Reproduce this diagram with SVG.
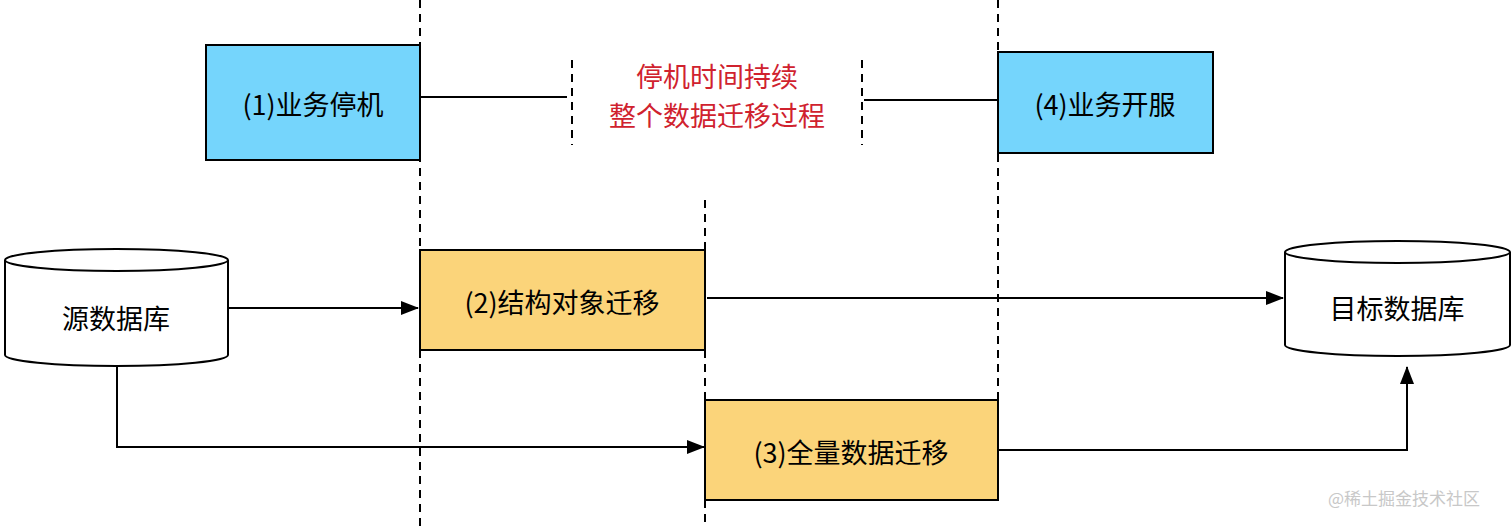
<svg xmlns="http://www.w3.org/2000/svg" width="1512" height="527" viewBox="0 0 1512 527">
<style>
.t{font-family:"Noto Sans CJK SC","Noto Sans",sans-serif;font-size:27px;fill:#000;text-anchor:middle;dominant-baseline:central}
.blue{fill:#75d5fc;stroke:#000;stroke-width:2}
.yel{fill:#fbd47a;stroke:#000;stroke-width:2}
.ln{fill:none;stroke:#000;stroke-width:2}
.dash{fill:none;stroke:#000;stroke-width:2;stroke-dasharray:8,6}
.cyl{fill:#fff;stroke:#000;stroke-width:2}
</style>
<defs><marker id="a" markerWidth="10" markerHeight="10" refX="9" refY="5" orient="auto" markerUnits="userSpaceOnUse"><path d="M0,0 L10,5 L0,10 Z" fill="#000"/></marker>
<marker id="b" markerWidth="18" markerHeight="14" refX="17" refY="7" orient="auto" markerUnits="userSpaceOnUse"><path d="M0,0 L18,7 L0,14 Z" fill="#000"/></marker></defs>
<g id="connectors">
<path class="dash" d="M420,0 V527"/>
<path class="dash" d="M998,0 V400"/>
<path class="dash" d="M705,200 V250"/>
<path class="dash" d="M705,350 V400"/>
<path class="dash" d="M705,500 V527"/>
<path class="dash" d="M572,60 V145"/>
<path class="dash" d="M862,60 V145"/>
<path class="ln" d="M420,97 H567"/>
<path class="ln" d="M864,100 H998"/>
<path class="ln" d="M228,308 H418" marker-end="url(#b)"/>
<path class="ln" d="M707,298 H1283" marker-end="url(#b)"/>
<path class="ln" d="M117,366 V447 H704" marker-end="url(#b)"/>
<path class="ln" d="M999,450 H1407 V367" marker-end="url(#b)"/>
</g>
<g id="n1"><rect class="blue" x="206" y="45" width="214" height="115"/><text class="t" x="313" y="103">(1)业务停机</text></g>
<g id="n4"><rect class="blue" x="998" y="52" width="215" height="101"/><text class="t" x="1105" y="103">(4)业务开服</text></g>
<g id="note"><text class="t" x="717" y="75" style="fill:#d0222e">停机时间持续</text><text class="t" x="717" y="114" style="fill:#d0222e">整个数据迁移过程</text></g>
<g id="n2"><rect class="yel" x="420" y="250" width="285" height="100"/><text class="t" x="562" y="301">(2)结构对象迁移</text></g>
<g id="n3"><rect class="yel" x="705" y="400" width="293" height="100"/><text class="t" x="851" y="451">(3)全量数据迁移</text></g>
<g id="src"><path class="cyl" d="M5,260 V355 A111.5,11 0 0 0 228,355 V260"/><ellipse class="cyl" cx="116.5" cy="260" rx="111.5" ry="11"/><text class="t" x="116" y="317">源数据库</text></g>
<g id="dst"><path class="cyl" d="M1285,252 V345 A112.5,11 0 0 0 1510,345 V252"/><ellipse class="cyl" cx="1397.5" cy="252" rx="112.5" ry="11"/><text class="t" x="1397" y="307">目标数据库</text></g>
<text x="1404" y="497" style="font-family:'Noto Sans CJK SC',sans-serif;font-size:17px;fill:#c8c8c8;text-anchor:middle;dominant-baseline:central">@稀土掘金技术社区</text>
</svg>
